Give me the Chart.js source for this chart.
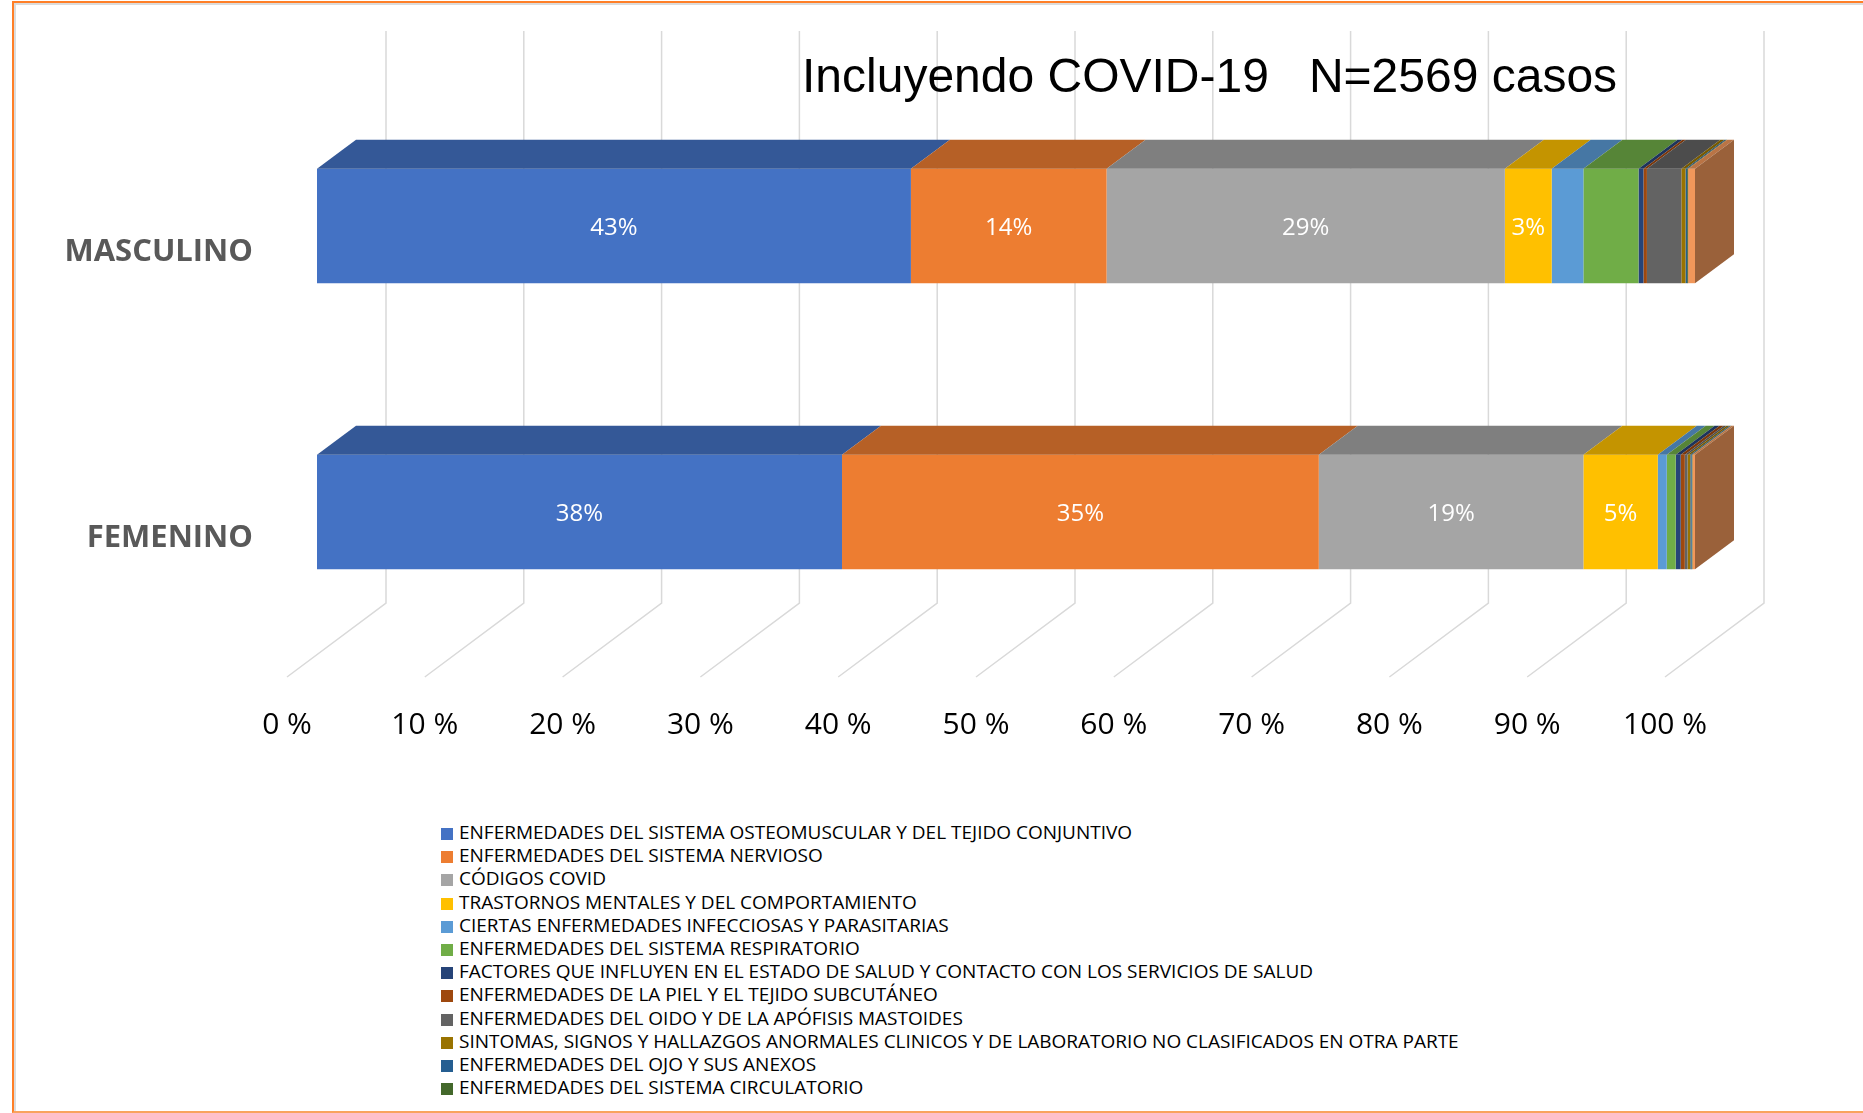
<!DOCTYPE html>
<html lang="es">
<head>
<meta charset="utf-8">
<title>Incluyendo COVID-19</title>
<script src="https://cdn.jsdelivr.net/npm/chart.js@4.4.1/dist/chart.umd.min.js"></script>
<style>
  html, body { margin: 0; padding: 0; background: #fff; }
  body { width: 1863px; height: 1113px; position: relative; overflow: hidden; font-family: "Open Sans", sans-serif; }
  #marco {
    position: absolute; left: 12px; top: 1px; width: 1900px; height: 1108px;
    border-left: 2px solid #ff7f27; border-top: 2px solid #ff7f27; border-bottom: 2px solid #f9a35e;
    box-shadow: inset 2px 2px 0 #dcdcdc;
  }
  #titulo {
    position: absolute; left: 802px; top: 48px; margin: 0;
    font: 48px "Liberation Sans", Arial, sans-serif; color: #000; white-space: pre;
  }
  #lienzo { position: absolute; left: 0; top: 0; }
  #leyenda { position: absolute; left: 441px; top: 821px; }
  .item { height: 23.2px; line-height: 23.2px; font-size: 19px; color: #000; white-space: nowrap; }
  .item span { display: inline-block; width: 12px; height: 12px; margin-right: 6px; vertical-align: -1px; }
</style>
</head>
<body>
<div id="marco"></div>
<canvas id="lienzo" width="1863" height="800"></canvas>
<h1 id="titulo">Incluyendo COVID-19   N=2569 casos</h1>
<div id="leyenda"></div>
<script>
const categorias = ["MASCULINO", "FEMENINO"];

const grupos = [
  "ENFERMEDADES DEL SISTEMA OSTEOMUSCULAR Y DEL TEJIDO CONJUNTIVO",
  "ENFERMEDADES DEL SISTEMA NERVIOSO",
  "CÓDIGOS COVID",
  "TRASTORNOS MENTALES Y DEL COMPORTAMIENTO",
  "CIERTAS ENFERMEDADES INFECCIOSAS Y PARASITARIAS",
  "ENFERMEDADES DEL SISTEMA RESPIRATORIO",
  "FACTORES QUE INFLUYEN EN EL ESTADO DE SALUD Y CONTACTO CON LOS SERVICIOS DE SALUD",
  "ENFERMEDADES DE LA PIEL Y EL TEJIDO SUBCUTÁNEO",
  "ENFERMEDADES DEL OIDO Y DE LA APÓFISIS MASTOIDES",
  "SINTOMAS, SIGNOS Y HALLAZGOS ANORMALES CLINICOS Y DE LABORATORIO NO CLASIFICADOS EN OTRA PARTE",
  "ENFERMEDADES DEL OJO Y SUS ANEXOS",
  "ENFERMEDADES DEL SISTEMA CIRCULATORIO",
  "OTROS"
];

// porcentajes (masculino / femenino)
const masculino = [43.1, 14.2, 28.9, 3.4, 2.3, 4.0, 0.36, 0.25, 2.5, 0.3, 0.12, 0.07, 0.5];
const femenino  = [38.1, 34.6, 19.2, 5.4, 0.65, 0.65, 0.36, 0.3, 0.2, 0.2, 0.1, 0.05, 0.19];

const colores = ["#4472c4", "#ed7d31", "#a5a5a5", "#ffc000", "#5b9bd5", "#70ad47",
                 "#264478", "#9e480e", "#636363", "#997300", "#255e91", "#43682b", "#f1975a"];

const ticksX = [0, 10, 20, 30, 40, 50, 60, 70, 80, 90, 100];

// solo las primeras 4 series llevan etiqueta
const conEtiqueta = 4;
// la leyenda del original se corta en 12 entradas
const enLeyenda = 12;

function oscurecer(hex, f) {
  const n = parseInt(hex.slice(1), 16);
  const r = Math.round(((n >> 16) & 255) * f);
  const g = Math.round(((n >> 8) & 255) * f);
  const b = Math.round((n & 255) * f);
  return `rgb(${r},${g},${b})`;
}

// profundidad de la proyeccion oblicua
const BARRA_DX = 39, BARRA_DY = 29;
const PARED_DX = 69, PARED_DY = 52;
const PISO_DX = -30, PISO_DY = 22;

const fondo3d = {
  id: "fondo3d",
  beforeDatasetsDraw(chart) {
    const { ctx, chartArea, scales } = chart;
    ctx.save();
    ctx.strokeStyle = "#d9d9d9";
    ctx.lineWidth = 1.5;
    ticksX.forEach(v => {
      const x = scales.x.getPixelForValue(v);
      ctx.beginPath();
      ctx.moveTo(x + PARED_DX, chartArea.top - PARED_DY);
      ctx.lineTo(x + PARED_DX, chartArea.bottom - PARED_DY);
      ctx.lineTo(x + PISO_DX, chartArea.bottom + PISO_DY);
      ctx.stroke();
    });
    ctx.restore();
  }
};

const caras3d = {
  id: "caras3d",
  afterDatasetsDraw(chart) {
    const { ctx } = chart;
    ctx.save();
    const n = chart.data.datasets.length;
    chart.data.datasets.forEach((ds, i) => {
      const meta = chart.getDatasetMeta(i);
      meta.data.forEach(bar => {
        const p = bar.getProps(["x", "y", "base", "height"], true);
        const x0 = Math.min(p.base, p.x), x1 = Math.max(p.base, p.x);
        const top = p.y - p.height / 2, bottom = p.y + p.height / 2;
        if (x1 - x0 <= 0) return;
        // cara superior
        ctx.fillStyle = oscurecer(ds.backgroundColor, 0.77);
        ctx.beginPath();
        ctx.moveTo(x0, top);
        ctx.lineTo(x1, top);
        ctx.lineTo(x1 + BARRA_DX, top - BARRA_DY);
        ctx.lineTo(x0 + BARRA_DX, top - BARRA_DY);
        ctx.closePath();
        ctx.fill();
        // cara lateral de la ultima serie
        if (i === n - 1) {
          ctx.fillStyle = oscurecer(ds.backgroundColor, 0.64);
          ctx.beginPath();
          ctx.moveTo(x1, top);
          ctx.lineTo(x1 + BARRA_DX, top - BARRA_DY);
          ctx.lineTo(x1 + BARRA_DX, bottom - BARRA_DY);
          ctx.lineTo(x1, bottom);
          ctx.closePath();
          ctx.fill();
        }
      });
    });
    // etiquetas de porcentaje
    ctx.fillStyle = "#fff";
    ctx.font = '24px "Open Sans"';
    ctx.textAlign = "center";
    ctx.textBaseline = "middle";
    for (let i = 0; i < conEtiqueta; i++) {
      const meta = chart.getDatasetMeta(i);
      meta.data.forEach((bar, j) => {
        const p = bar.getProps(["x", "y", "base"], true);
        const v = chart.data.datasets[i].data[j];
        ctx.fillText(Math.round(v) + "%", (p.x + p.base) / 2, p.y + 2);
      });
    }
    ctx.restore();
  }
};

const datasets = grupos.map((g, i) => ({
  label: g,
  data: [masculino[i], femenino[i]],
  backgroundColor: colores[i],
  borderWidth: 0,
  categoryPercentage: 1,
  barPercentage: 0.4
}));

const grafico = new Chart(document.getElementById("lienzo"), {
  type: "bar",
  data: { labels: categorias, datasets },
  options: {
    indexAxis: "y",
    responsive: false,
    animation: false,
    layout: { padding: { top: 83, right: 168, left: 0, bottom: 0 } },
    plugins: { legend: { display: false }, tooltip: { enabled: false }, title: { display: false } },
    scales: {
      x: {
        stacked: true, min: 0, max: 100,
        afterFit: s => { s.height = 145; },
        afterBuildTicks: s => { s.ticks = ticksX.map(v => ({ value: v })); },
        grid: { display: false, drawTicks: false },
        border: { display: false },
        ticks: {
          padding: 52, labelOffset: -30, color: "#000",
          font: { family: "Open Sans", size: 30 },
          callback: v => v + " %"
        }
      },
      y: {
        stacked: true,
        afterFit: s => { s.width = 317; },
        grid: { display: false, drawTicks: false },
        border: { display: false },
        ticks: {
          padding: 64, labelOffset: 26, color: "#595959",
          font: { family: "Open Sans", size: 31, weight: "bold" }
        }
      }
    }
  },
  plugins: [fondo3d, caras3d]
});

// leyenda en html, una entrada por fila
const leyenda = document.getElementById("leyenda");
grafico.data.datasets.slice(0, enLeyenda).forEach(ds => {
  const fila = document.createElement("div");
  fila.className = "item";
  fila.innerHTML = `<span style="background:${ds.backgroundColor}"></span>${ds.label}`;
  leyenda.appendChild(fila);
});
</script>
</body>
</html>
